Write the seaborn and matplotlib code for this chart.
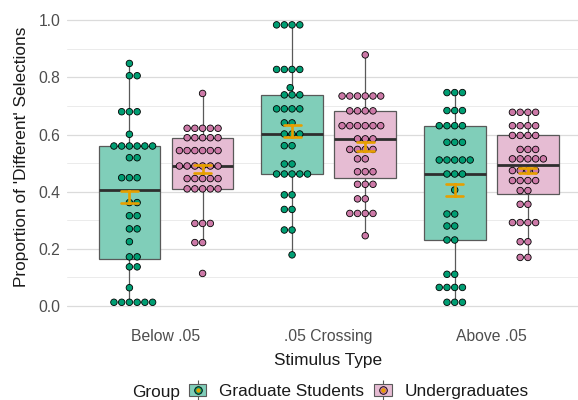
import numpy as np
import pandas as pd
import matplotlib
matplotlib.use("Agg")
import matplotlib.pyplot as plt
import seaborn as sns
from matplotlib.patches import Patch
from matplotlib.lines import Line2D
from matplotlib.legend_handler import HandlerTuple

# ---------------- data ----------------
stimuli = ["Below .05", ".05 Crossing", "Above .05"]
groups = ["Graduate Students", "Undergraduates"]

grad_below = [0.849, 0.806, 0.806, 0.680, 0.680, 0.680, 0.601,
              0.560, 0.560, 0.560, 0.560, 0.560, 0.560, 0.519, 0.519,
              0.449, 0.449, 0.449, 0.362, 0.362, 0.316, 0.316, 0.270, 0.270,
              0.225, 0.172, 0.172, 0.137, 0.137, 0.064,
              0.013, 0.013, 0.013, 0.013, 0.013, 0.013]
ug_below = [0.744, 0.622, 0.622, 0.622, 0.622, 0.622,
            0.589, 0.589, 0.589, 0.589, 0.589,
            0.544, 0.544, 0.544, 0.544, 0.544, 0.544,
            0.490, 0.490, 0.490, 0.490, 0.490, 0.490,
            0.446, 0.446, 0.446, 0.446, 0.446,
            0.410, 0.410, 0.410, 0.410, 0.410,
            0.289, 0.289, 0.289, 0.222, 0.222, 0.114]
grad_cross = [0.984, 0.984, 0.984, 0.984, 0.828, 0.828, 0.828, 0.828,
              0.764, 0.739, 0.739, 0.739, 0.690, 0.690, 0.690, 0.690,
              0.641, 0.641, 0.602, 0.602, 0.602, 0.561, 0.561, 0.497, 0.497,
              0.462, 0.462, 0.462, 0.462, 0.462, 0.389, 0.389,
              0.338, 0.338, 0.266, 0.266, 0.179]
ug_cross = [0.879, 0.735, 0.735, 0.735, 0.735, 0.735, 0.735,
            0.683, 0.683, 0.683, 0.683,
            0.631, 0.631, 0.631, 0.631, 0.631, 0.631,
            0.585, 0.585, 0.585, 0.548, 0.548, 0.548, 0.548,
            0.515, 0.515, 0.470, 0.470, 0.470, 0.426, 0.426, 0.426,
            0.375, 0.375, 0.324, 0.324, 0.324, 0.324, 0.246]
grad_above = [0.747, 0.747, 0.747, 0.684, 0.684, 0.684,
              0.631, 0.631, 0.631, 0.631, 0.573, 0.573, 0.573,
              0.511, 0.511, 0.511, 0.511, 0.511, 0.462, 0.462, 0.462,
              0.406, 0.322, 0.322, 0.280, 0.280, 0.231, 0.231,
              0.111, 0.111, 0.065, 0.065, 0.065, 0.065, 0.013, 0.013, 0.013]
ug_above = [0.678, 0.678, 0.678, 0.678, 0.631, 0.631, 0.631, 0.631,
            0.597, 0.597, 0.597, 0.597, 0.548, 0.548, 0.548,
            0.515, 0.515, 0.515, 0.515, 0.515, 0.474, 0.474, 0.474, 0.474,
            0.439, 0.439, 0.439, 0.439, 0.404, 0.404, 0.356, 0.356,
            0.292, 0.292, 0.292, 0.292, 0.225, 0.225, 0.170, 0.170]

# half-widths of the orange error bars (standard errors), per stimulus
se_grad = [0.020, 0.020, 0.021]
se_ug = [0.0145, 0.015, 0.008]

# ---------------- build tables ----------------
series = {
    ("Below .05", "Graduate Students"): grad_below,
    ("Below .05", "Undergraduates"): ug_below,
    (".05 Crossing", "Graduate Students"): grad_cross,
    (".05 Crossing", "Undergraduates"): ug_cross,
    ("Above .05", "Graduate Students"): grad_above,
    ("Above .05", "Undergraduates"): ug_above,
}
dodge_off = {"Graduate Students": -0.225, "Undergraduates": 0.225}  # group dodge (style)

rows = []
for (stim, grp), vals in series.items():
    for v in vals:
        rows.append({"stim": stim, "pos": stimuli.index(stim) + dodge_off[grp],
                     "group": grp, "value": v})
df = pd.DataFrame(rows)

se_map = {"Graduate Students": se_grad, "Undergraduates": se_ug}
err_rows = []
for (stim, grp), vals in series.items():
    m = float(np.mean(vals))
    se = se_map[grp][stimuli.index(stim)]
    for v in (m - se, m + se):
        err_rows.append({"pos": stimuli.index(stim) + dodge_off[grp],
                         "group": grp, "value": v})
err_df = pd.DataFrame(err_rows)

# ---------------- style ----------------
sns.set_theme(style="white")
plt.rcParams["font.family"] = ["Liberation Sans", "DejaVu Sans"]

dot_pal = {"Graduate Students": "#009E73", "Undergraduates": "#CC79A7"}
box_pal = {"Graduate Students": "#80CEB9", "Undergraduates": "#E6BCD3"}
orange = "#E69F00"
line_col = "#595959"

fig = plt.figure(figsize=(5.78, 4.0), dpi=100)
W, H = 578.0, 400.0
pxx = 162.65           # pixels per category step
pxy = 285.7            # pixels per unit of proportion
xl = (-0.606, 2.6)
yl = (-0.05, 1.035)
left_px = 166 + xl[0] * pxx
bottom_px = 306 + 0.05 * pxy
ax_w_px = (xl[1] - xl[0]) * pxx
ax_h_px = (yl[1] - yl[0]) * pxy
ax = fig.add_axes([left_px / W, (H - bottom_px) / H, ax_w_px / W, ax_h_px / H])

sns.boxplot(data=df, x="pos", y="value", hue="group", hue_order=groups,
            native_scale=True, dodge=False, width=0.843, saturation=1,
            palette=box_pal, linecolor=line_col, linewidth=0.9,
            showfliers=False, showcaps=False, whis=1.5,
            medianprops={"color": "#2E2E2E", "linewidth": 2.0},
            legend=False, ax=ax)
sns.swarmplot(data=df, x="pos", y="value", hue="group", hue_order=groups,
              native_scale=True, dodge=False, palette=dot_pal, size=4.7,
              edgecolor="black", linewidth=0.6, legend=False, zorder=3, ax=ax)
sns.pointplot(data=err_df, x="pos", y="value", hue="group", hue_order=groups,
              native_scale=True, dodge=False, estimator="mean",
              errorbar=("pi", 100), palette={g: orange for g in groups},
              markers="", linestyles="none", capsize=0.232,
              err_kws={"linewidth": 1.9, "zorder": 4},
              legend=False, ax=ax)

ax.set_xlim(*xl)
ax.set_ylim(*yl)
ax.set_xticks(range(len(stimuli)), stimuli)
ax.set_yticks(np.arange(0, 1.01, 0.2))
ax.yaxis.set_major_formatter(matplotlib.ticker.FormatStrFormatter("%.1f"))
ax.set_yticks(np.arange(0.1, 1.0, 0.2), minor=True)
for s in ax.spines.values():
    s.set_visible(False)
ax.grid(False)
ax.yaxis.grid(True, which="major", color="#DBDBDB", linewidth=0.9)
ax.yaxis.grid(True, which="minor", color="#EBEBEB", linewidth=0.7)
ax.set_axisbelow(True)
ax.tick_params(axis="both", which="major", length=3, width=0.7, color="#333333",
               labelcolor="#4D4D4D", labelsize=11.3, pad=2)
ax.tick_params(axis="y", which="minor", length=0)
ax.tick_params(axis="x", which="major", pad=3)

ax.set_xlabel("Stimulus Type", fontsize=12.4, color="#1A1A1A", va="center")
ax.set_ylabel("Proportion of 'Different' Selections", fontsize=12.4,
              color="#1A1A1A", va="center")
ax.xaxis.set_label_coords((328 - left_px) / ax_w_px, (bottom_px - 360) / ax_h_px)
ax.yaxis.set_label_coords((22 - left_px) / ax_w_px, (bottom_px - 156.7) / ax_h_px)

# ---------------- legend ----------------
fig.text(131.7 / W, (H - 397) / H, "Group", fontsize=12.4, color="#1A1A1A",
         ha="left", va="baseline")
handles = []
for g in groups:
    handles.append((
        Line2D([], [], color=line_col, marker="|", markersize=15,
               markeredgewidth=0.8, linestyle="none"),
        Patch(facecolor=box_pal[g], edgecolor=line_col, linewidth=0.8),
        Line2D([], [], marker="o", markerfacecolor=dot_pal[g],
               markeredgecolor="black", markeredgewidth=0.6, markersize=5.5,
               linestyle="none"),
        Line2D([], [], marker="o", color=orange, markersize=2.2, linestyle="none"),
    ))
fig.legend(handles, groups, handler_map={tuple: HandlerTuple(ndivide=1, pad=0)},
           loc="center left", bbox_to_anchor=(189 / W, (H - 391.5) / H),
           ncol=2, frameon=False, fontsize=12.4, handlelength=1.0,
           handleheight=0.7, handletextpad=0.75, columnspacing=0.6,
           borderpad=0, borderaxespad=0, labelcolor="#1A1A1A")

fig.savefig("out.png", dpi=100)
